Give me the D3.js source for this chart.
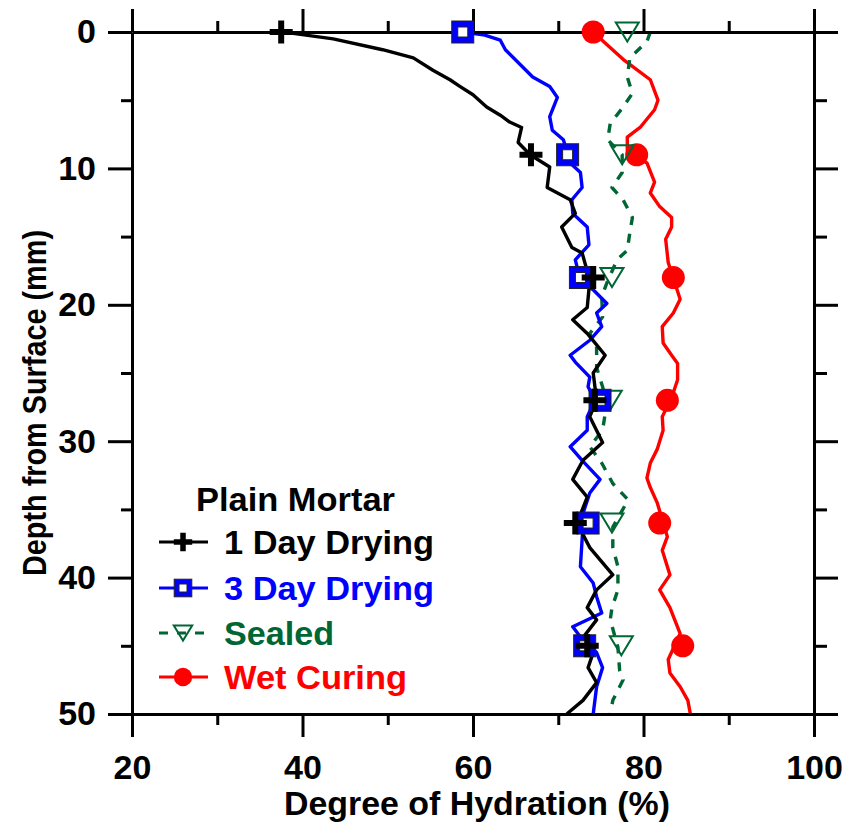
<!DOCTYPE html>
<html><head><meta charset="utf-8">
<script src="https://cdn.jsdelivr.net/npm/d3@7"></script>
<style>
body{margin:0;background:#fff}
text{font-family:"Liberation Sans",Arial,sans-serif;font-weight:bold}
</style>
</head><body>
<svg id="c" width="859" height="826"></svg>
<script>
// ---- data ----
const xTicks = [20, 40, 60, 80, 100];
const xMinor = [30, 50, 70, 90];
const yTicks = [0, 10, 20, 30, 40, 50];
const yMinor = [5, 15, 25, 35, 45];
const legendTitle = "Plain Mortar";
const seriesNames = ["1 Day Drying", "3 Day Drying", "Sealed", "Wet Curing"];
const seriesColors = ["#000000", "#0000ff", "#006633", "#ff0000"];
const markerDepths = [0, 9, 18, 27, 36, 45];

const oneDayDepth = [0,0.1,0.5,1.3,1.9,2.8,3.5,4.0,4.6,5.5,6.1,6.6,7.0,8.1,9.0,9.9,11.4,12.3,13.3,14.3,15.8,16.2,18.2,20.2,21.1,22.1,23.7,25.0,27.0,28.2,30.1,31.4,32.8,34.1,36.0,37.8,39.8,40.9,42.2,43.1,44.4,45.5,46.6,47.7,49.0,50];
const oneDayValue = [37.5,38.9,43.6,49.4,53.0,55.3,57.3,58.5,60.0,61.6,63.2,64.3,65.7,65.3,66.7,69.0,68.7,71.4,72.0,70.4,71.6,72.8,73.7,73.4,71.7,73.4,75.5,74.1,74.5,73.7,75.2,72.9,71.7,73.4,72.2,73.7,76.4,74.5,73.4,74.5,72.9,74.1,73.5,74.5,72.9,71.0];

const threeDayDepth = [0,0.2,0.6,1.3,3.3,4.0,4.8,6.2,7.2,7.9,8.9,9.6,10.3,11.4,12.3,13.3,14.3,15.6,16.7,18.2,18.9,19.9,20.6,21.6,22.6,23.7,24.2,25.3,26.0,27.0,28.2,29.2,30.4,31.4,32.8,33.8,35.3,36.3,37.2,39.2,40.4,41.4,42.6,43.6,44.6,45.5,46.6,48.0,50];
const threeDayValue = [58.8,61.2,63.2,63.8,67.0,69.0,69.9,69.0,69.3,70.6,71.1,71.4,72.6,72.8,71.6,71.7,73.4,73.6,72.0,72.6,74.1,75.7,74.5,75.1,73.7,71.4,72.0,73.7,73.5,74.3,73.4,73.4,71.4,72.8,74.9,73.7,72.9,72.9,72.8,72.6,74.1,74.5,75.1,71.7,72.9,74.5,75.2,74.5,74.1];

const sealedDepth = [0,0.7,1.9,3.3,4.5,5.6,6.7,7.9,9.0,10.3,11.4,12.3,13.6,14.7,16.0,16.7,18.4,19.4,20.9,22.1,23.1,24.6,26.0,27.2,29.2,30.4,31.6,33.1,34.3,36.3,37.8,39.2,40.9,42.2,43.1,45.1,46.8,47.5,49.0,50];
const sealedValue = [80.8,80.4,78.4,78.1,78.7,77.5,76.1,75.8,77.5,77.5,76.3,77.6,78.7,78.4,78.1,76.9,75.7,75.1,75.2,73.7,74.5,74.5,75.2,75.7,75.2,73.7,75.1,76.4,78.2,76.4,76.4,77.0,77.0,76.3,76.1,77.0,77.2,77.6,76.4,76.1];

const wetDepth = [0,0.8,2.1,3.5,5.0,5.7,7.0,7.7,8.7,9.6,11.0,11.8,12.8,13.6,14.3,15.2,16.9,19.6,20.6,21.6,22.8,23.7,24.3,25.5,26.8,28.2,29.2,30.6,31.6,32.7,33.4,34.5,37.0,38.0,39.8,40.9,42.2,44.1,46.0,47.0,48.0,49.0,50];
const wetValue = [74.1,75.5,77.8,80.8,81.7,81.3,79.6,78.1,78.1,80.4,81.3,80.8,81.9,83.3,83.3,82.6,82.9,84.3,83.5,82.2,82.3,83.3,84.0,84.0,83.3,82.2,82.3,81.6,80.8,80.4,80.8,81.6,82.8,82.2,83.1,81.9,83.1,84.3,82.9,83.1,84.3,85.2,85.5];

const oneDayMarker = [37.5, 66.8, 74.1, 74.3, 72.0, 73.4];
const threeDayMarker = [58.8, 71.1, 72.6, 74.9, 73.5, 73.1];
const sealedMarker = [78.1, 77.5, 76.3, 76.1, 76.3, 77.4];
const wetMarker = [74.1, 79.2, 83.5, 82.8, 81.9, 84.6];

// ---- layout ----
const svg = d3.select("#c");
const x = d3.scaleLinear().domain([20, 100]).range([132, 814]);
const y = d3.scaleLinear().domain([0, 50]).range([32, 714]);
const FONT = '"Liberation Sans", Arial, sans-serif';

function styleAxis(g) {
  g.attr("font-family", FONT).attr("font-size", 34).attr("font-weight", "bold");
  g.selectAll("path.domain").attr("stroke", "#000").attr("stroke-width", 3);
  g.selectAll(".tick line").attr("stroke", "#000").attr("stroke-width", 3);
  g.selectAll(".tick text").attr("fill", "#000");
}

const series = [
  {depth: oneDayDepth, value: oneDayValue, marker: oneDayMarker, color: seriesColors[0], dash: null, sym: "plus"},
  {depth: threeDayDepth, value: threeDayValue, marker: threeDayMarker, color: seriesColors[1], dash: null, sym: "square"},
  {depth: sealedDepth, value: sealedValue, marker: sealedMarker, color: seriesColors[2], dash: "9,9", sym: "tri"},
  {depth: wetDepth, value: wetValue, marker: wetMarker, color: seriesColors[3], dash: null, sym: "circle"}
];

const line = d3.line().x(d => x(d[1])).y(d => y(d[0]));
const drawOrder = [3, 2, 1, 0];
drawOrder.forEach(i => {
  const s = series[i];
  svg.append("path")
    .datum(s.depth.map((d, k) => [d, s.value[k]]))
    .attr("d", line)
    .attr("fill", "none")
    .attr("stroke", s.color)
    .attr("stroke-width", 3.4)
    .attr("stroke-linejoin", "round")
    .attr("stroke-dasharray", s.dash);
});

// axes
const gB = svg.append("g").attr("transform", `translate(0,${y(50)})`)
  .call(d3.axisBottom(x).tickValues(xTicks).tickSize(23).tickSizeOuter(0).tickPadding(18));
styleAxis(gB);
const gBm = svg.append("g").attr("transform", `translate(0,${y(50)})`)
  .call(d3.axisBottom(x).tickValues(xMinor).tickSize(11).tickFormat(""));
gBm.select(".domain").remove(); styleAxis(gBm);

const gT = svg.append("g").attr("transform", `translate(0,${y(0)})`)
  .call(d3.axisTop(x).tickValues(xTicks).tickSize(23).tickSizeOuter(0).tickFormat(""));
styleAxis(gT);
const gTm = svg.append("g").attr("transform", `translate(0,${y(0)})`)
  .call(d3.axisTop(x).tickValues(xMinor).tickSize(11).tickFormat(""));
gTm.select(".domain").remove(); styleAxis(gTm);

const gL = svg.append("g").attr("transform", `translate(${x(20)},0)`)
  .call(d3.axisLeft(y).tickValues(yTicks).tickSize(24).tickSizeOuter(0).tickPadding(12));
styleAxis(gL);
const gLm = svg.append("g").attr("transform", `translate(${x(20)},0)`)
  .call(d3.axisLeft(y).tickValues(yMinor).tickSize(11).tickFormat(""));
gLm.select(".domain").remove(); styleAxis(gLm);

const gR = svg.append("g").attr("transform", `translate(${x(100)},0)`)
  .call(d3.axisRight(y).tickValues(yTicks).tickSize(24).tickSizeOuter(0).tickFormat(""));
styleAxis(gR);
const gRm = svg.append("g").attr("transform", `translate(${x(100)},0)`)
  .call(d3.axisRight(y).tickValues(yMinor).tickSize(13).tickFormat(""));
gRm.select(".domain").remove(); styleAxis(gRm);

// markers
function drawSymbol(g, sym, color, big) {
  const k = big ? 1 : 0.8;
  if (sym === "plus") {
    const h = 11.5 * k;
    g.append("path").attr("d", `M${-h},0H${h}M0,${-h}V${h}`)
      .attr("stroke", color).attr("stroke-width", big ? 6 : 5.5).attr("fill", "none");
  } else if (sym === "square") {
    const o = 11 * k, n = 5 * k;
    g.append("rect").attr("x", -o).attr("y", -o).attr("width", 2 * o).attr("height", 2 * o)
      .attr("fill", color).attr("stroke", "#222").attr("stroke-width", 1);
    g.append("rect").attr("x", -n).attr("y", -n).attr("width", 2 * n).attr("height", 2 * n)
      .attr("fill", "#fff").attr("stroke", "#222").attr("stroke-width", 1);
  } else if (sym === "tri") {
    const w = 11.5 * k, h = 9.5 * k;
    g.append("path").attr("d", `M${-w},${-h}L${w},${-h}L0,${h}Z`)
      .attr("fill", "none").attr("stroke", color).attr("stroke-width", 2);
  } else {
    g.append("circle").attr("r", 11.5 * k).attr("fill", color);
  }
}
drawOrder.forEach(i => {
  const s = series[i];
  markerDepths.forEach((d, k) => {
    const g = svg.append("g").attr("transform", `translate(${x(s.marker[k])},${y(d)})`);
    drawSymbol(g, s.sym, s.color, true);
  });
});

// axis titles
svg.append("text").attr("x", 477).attr("y", 815).attr("text-anchor", "middle")
  .attr("font-size", 34).attr("textLength", 386).attr("lengthAdjust", "spacingAndGlyphs")
  .text("Degree of Hydration (%)");
svg.append("text").attr("transform", "translate(46,403) rotate(-90)").attr("text-anchor", "middle")
  .attr("font-size", 33).attr("textLength", 346).attr("lengthAdjust", "spacingAndGlyphs")
  .text("Depth from Surface (mm)");

// legend
svg.append("text").attr("x", 196).attr("y", 511).attr("font-size", 34)
  .attr("textLength", 199).attr("lengthAdjust", "spacingAndGlyphs").text(legendTitle);
const rowY = [542, 588, 633, 677];
const textW = [210, 210, 110, 183];
series.forEach((s, i) => {
  const ry = rowY[i];
  svg.append("line").attr("x1", 159).attr("x2", 208).attr("y1", ry).attr("y2", ry)
    .attr("stroke", s.color).attr("stroke-width", 3).attr("stroke-dasharray", s.dash);
  const g = svg.append("g").attr("transform", `translate(183,${ry})`);
  drawSymbol(g, s.sym, s.color, false);
  svg.append("text").attr("x", 224).attr("y", ry + 12).attr("font-size", 34)
    .attr("fill", s.color).attr("textLength", textW[i]).attr("lengthAdjust", "spacingAndGlyphs")
    .text(seriesNames[i]);
});
</script>
</body></html>
